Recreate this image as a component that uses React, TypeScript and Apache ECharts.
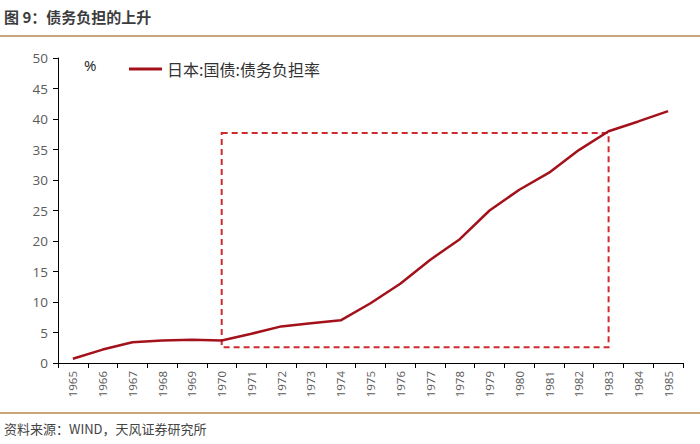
import React, { useEffect, useRef } from "react";
import * as echarts from "echarts";

const years = ["1965","1966","1967","1968","1969","1970","1971","1972","1973","1974","1975","1976","1977","1978","1979","1980","1981","1982","1983","1984","1985"];
const debtBurden = [0.7, 2.2, 3.4, 3.7, 3.8, 3.7, 4.8, 6.0, 6.5, 7.0, 9.8, 13.0, 16.9, 20.3, 25.0, 28.4, 31.2, 34.9, 38.0, 39.6, 41.3];
const yTicks = [0, 50, 5];
const boxFrom = { year: "1970", value: 37.7 };
const boxTo = { year: "1983", value: 2.6 };
const seriesName = "日本:国债:债务负担率";
const titleText = "图 9：债务负担的上升";
const sourceText = "资料来源：WIND，天风证券研究所";

const CJK = '"Noto Sans CJK SC", "Noto Sans", sans-serif';
const NUM = '"Open Sans", "Noto Sans", sans-serif';

export default function App() {
  const ref = useRef<HTMLDivElement>(null);
  useEffect(() => {
    if (!ref.current) return;
    const chart = echarts.init(ref.current, null, { renderer: "svg" });
    chart.setOption({
      animation: false,
      backgroundColor: "#ffffff",
      grid: { left: 58, right: 17, top: 58, bottom: 81, containLabel: false },
      legend: {
        data: [{ name: seriesName, icon: "rect" }],
        left: 124,
        top: 56,
        itemWidth: 33,
        itemHeight: 3,
        itemGap: 6,
        textStyle: { fontFamily: CJK, fontSize: 16, color: "#333333" },
      },
      xAxis: {
        type: "category",
        data: years,
        boundaryGap: true,
        axisLine: { lineStyle: { color: "#000000", width: 1 } },
        axisTick: { show: true, length: 5, lineStyle: { color: "#000000" } },
        axisLabel: { rotate: 90, color: "#5a5a5a", fontFamily: NUM, fontSize: 11.5, margin: 8, interval: 0 },
      },
      yAxis: {
        type: "value",
        min: yTicks[0],
        max: yTicks[1],
        interval: yTicks[2],
        axisLine: { show: true, lineStyle: { color: "#000000", width: 1 } },
        axisTick: { show: true, length: 5, lineStyle: { color: "#000000" } },
        splitLine: { show: false },
        axisLabel: { color: "#5a5a5a", fontFamily: NUM, fontSize: 13.5, margin: 10 },
      },
      series: [
        {
          name: seriesName,
          type: "line",
          data: debtBurden,
          symbol: "none",
          lineStyle: { color: "#a3121a", width: 2.5 },
          itemStyle: { color: "#a3121a" },
          markArea: {
            silent: true,
            itemStyle: {
              color: "rgba(0,0,0,0)",
              borderColor: "#d02a2f",
              borderWidth: 2,
              borderType: [6, 4],
            },
            data: [[
              { xAxis: boxFrom.year, yAxis: boxFrom.value },
              { xAxis: boxTo.year, yAxis: boxTo.value },
            ]],
          },
        },
      ],
      graphic: [
        {
          type: "text",
          left: 4,
          top: 9,
          style: { text: titleText, fontFamily: CJK, fontSize: 15, fontWeight: "bold", fill: "#3c3c3c" },
        },
        {
          type: "rect",
          shape: { x: 0, y: 35, width: 700, height: 2 },
          style: { fill: "#c9a57c" },
        },
        {
          type: "rect",
          shape: { x: 0, y: 412, width: 700, height: 2 },
          style: { fill: "#c9a57c" },
        },
        {
          type: "text",
          left: 4,
          top: 422,
          style: { text: sourceText, fontFamily: CJK, fontSize: 13, fill: "#444444" },
        },
        {
          type: "text",
          left: 84,
          top: 57,
          style: { text: "%", fontFamily: NUM, fontSize: 15, fill: "#222222" },
        },
      ],
    });
    return () => chart.dispose();
  }, []);
  return (
    <div
      ref={ref}
      style={{ position: "fixed", left: 0, top: 0, width: 700, height: 444, background: "#fff" }}
    />
  );
}
